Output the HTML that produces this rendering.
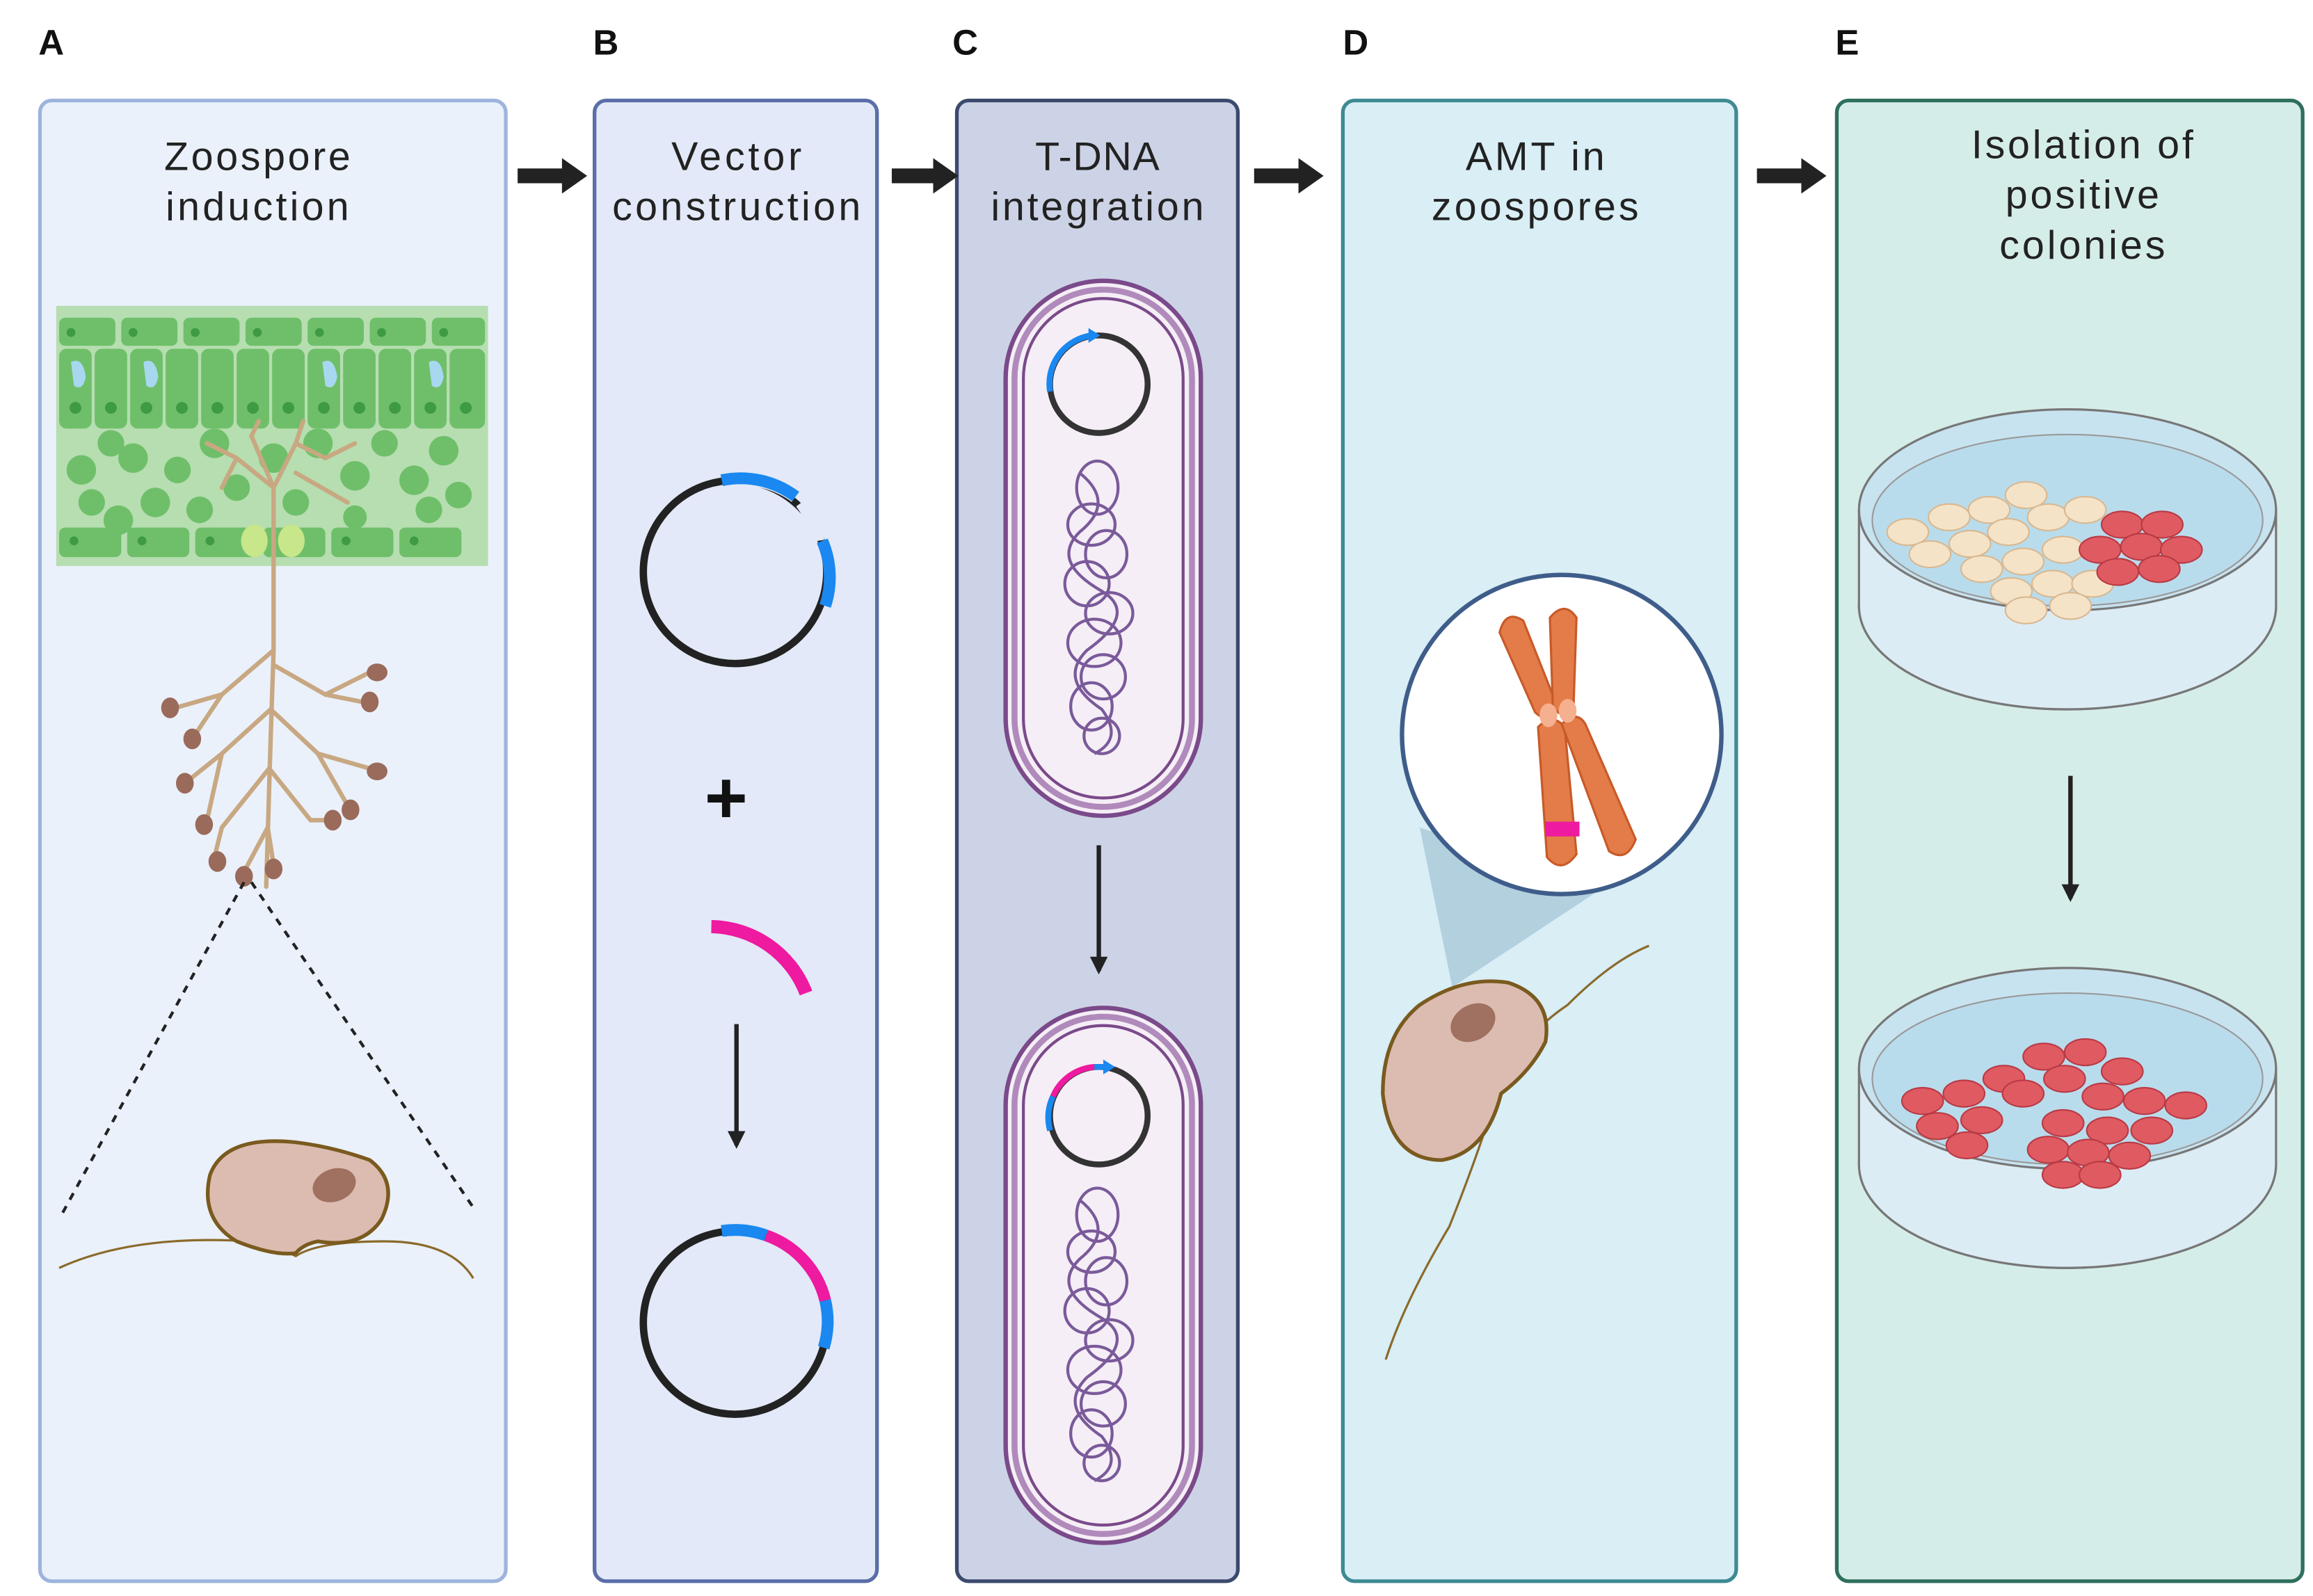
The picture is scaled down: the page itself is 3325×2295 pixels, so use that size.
<!DOCTYPE html>
<html><head><meta charset="utf-8"><style>
html,body{margin:0;padding:0;background:#fff;}
svg{display:block;}
text{font-family:"Liberation Sans",sans-serif;}
</style></head><body>
<svg width="3325" height="2295" viewBox="0 0 1564 1080" preserveAspectRatio="none" xmlns="http://www.w3.org/2000/svg">
<defs>
<marker id="ah" viewBox="0 0 10 10" refX="8" refY="5" markerWidth="4" markerHeight="4" orient="auto"><path d="M0,0L10,5L0,10z" fill="#222"/></marker>
</defs>
<rect width="1564" height="1080" fill="#fff"/>
<g font-weight="bold" font-size="24" fill="#111">
<text x="26" y="37">A</text><text x="401" y="37">B</text><text x="644" y="37">C</text><text x="908" y="37">D</text><text x="1241" y="37">E</text>
</g>
<rect x="27" y="68" width="315" height="1002" rx="8" fill="#eaf1fb" stroke="#9db4dc" stroke-width="2.5"/>
<rect x="402" y="68" width="191" height="1002" rx="8" fill="#e3e9f8" stroke="#5a6ea8" stroke-width="2.5"/>
<rect x="647" y="68" width="190" height="1002" rx="8" fill="#cdd3e6" stroke="#3c4a6e" stroke-width="2.5"/>
<rect x="908" y="68" width="266" height="1002" rx="8" fill="#d9eef5" stroke="#3f8a92" stroke-width="2.5"/>
<rect x="1242" y="68" width="315" height="1002" rx="8" fill="#d5ede8" stroke="#2f6f5e" stroke-width="2.5"/>
<g fill="#222">
<path d="M350,114h30v-7l17,12l-17,12v-7h-30z"/>
<path d="M603,114h28v-7l17,12l-17,12v-7h-28z"/>
<path d="M848,114h30v-7l17,12l-17,12v-7h-30z"/>
<path d="M1188,114h30v-7l17,12l-17,12v-7h-30z"/>
</g>
<g font-size="27" fill="#222" text-anchor="middle">
<text x="174" y="115" textLength="126">Zoospore</text><text x="174" y="149" textLength="124">induction</text>
<text x="498" y="115" textLength="88">Vector</text><text x="498" y="149" textLength="168">construction</text>
<text x="742" y="115" textLength="84">T-DNA</text><text x="742" y="149" textLength="144">integration</text>
<text x="1038" y="115" textLength="94">AMT in</text><text x="1038" y="149" textLength="140">zoospores</text>
<text x="1408" y="107" textLength="150">Isolation of</text><text x="1408" y="141" textLength="104">positive</text><text x="1408" y="175" textLength="112">colonies</text>
</g>
<!-- Panel A -->
<rect x="38" y="207" width="292" height="176" fill="#b6deb0"/>
<g fill="#6fbf6a">
<rect x="40" y="215" width="38" height="19" rx="4"/><rect x="82" y="215" width="38" height="19" rx="4"/><rect x="124" y="215" width="38" height="19" rx="4"/><rect x="166" y="215" width="38" height="19" rx="4"/><rect x="208" y="215" width="38" height="19" rx="4"/><rect x="250" y="215" width="38" height="19" rx="4"/><rect x="292" y="215" width="36" height="19" rx="4"/>
<rect x="40" y="236" width="22" height="54" rx="5"/><rect x="64" y="236" width="22" height="54" rx="5"/><rect x="88" y="236" width="22" height="54" rx="5"/><rect x="112" y="236" width="22" height="54" rx="5"/><rect x="136" y="236" width="22" height="54" rx="5"/><rect x="160" y="236" width="22" height="54" rx="5"/><rect x="184" y="236" width="22" height="54" rx="5"/><rect x="208" y="236" width="22" height="54" rx="5"/><rect x="232" y="236" width="22" height="54" rx="5"/><rect x="256" y="236" width="22" height="54" rx="5"/><rect x="280" y="236" width="22" height="54" rx="5"/><rect x="304" y="236" width="24" height="54" rx="5"/>
<circle cx="55" cy="318" r="10"/><circle cx="75" cy="300" r="9"/><circle cx="90" cy="310" r="10"/><circle cx="62" cy="340" r="9"/><circle cx="80" cy="352" r="10"/><circle cx="105" cy="340" r="10"/><circle cx="120" cy="318" r="9"/><circle cx="145" cy="300" r="10"/><circle cx="160" cy="330" r="9"/><circle cx="185" cy="310" r="10"/><circle cx="200" cy="340" r="9"/><circle cx="215" cy="300" r="10"/><circle cx="240" cy="322" r="10"/><circle cx="260" cy="300" r="9"/><circle cx="280" cy="325" r="10"/><circle cx="300" cy="305" r="10"/><circle cx="310" cy="335" r="9"/><circle cx="290" cy="345" r="9"/><circle cx="135" cy="345" r="9"/><circle cx="240" cy="350" r="8"/>
<rect x="40" y="357" width="42" height="20" rx="4"/><rect x="86" y="357" width="42" height="20" rx="4"/><rect x="132" y="357" width="42" height="20" rx="4"/><rect x="178" y="357" width="42" height="20" rx="4"/><rect x="224" y="357" width="42" height="20" rx="4"/><rect x="270" y="357" width="42" height="20" rx="4"/>
</g>
<g fill="#3f9a44"><circle cx="48" cy="225" r="3"/><circle cx="90" cy="225" r="3"/><circle cx="132" cy="225" r="3"/><circle cx="174" cy="225" r="3"/><circle cx="216" cy="225" r="3"/><circle cx="258" cy="225" r="3"/><circle cx="300" cy="225" r="3"/>
<circle cx="51" cy="276" r="4"/><circle cx="75" cy="276" r="4"/><circle cx="99" cy="276" r="4"/><circle cx="123" cy="276" r="4"/><circle cx="147" cy="276" r="4"/><circle cx="171" cy="276" r="4"/><circle cx="195" cy="276" r="4"/><circle cx="219" cy="276" r="4"/><circle cx="243" cy="276" r="4"/><circle cx="267" cy="276" r="4"/><circle cx="291" cy="276" r="4"/><circle cx="315" cy="276" r="4"/>
<circle cx="50" cy="366" r="3"/><circle cx="96" cy="366" r="3"/><circle cx="142" cy="366" r="3"/><circle cx="234" cy="366" r="3"/><circle cx="280" cy="366" r="3"/></g>
<g fill="#a8d8f0"><path d="M48,245q8,-4 10,10q-2,10 -8,6z"/><path d="M97,245q8,-4 10,10q-2,10 -8,6z"/><path d="M218,245q8,-4 10,10q-2,10 -8,6z"/><path d="M290,245q8,-4 10,10q-2,10 -8,6z"/></g>
<ellipse cx="172" cy="366" rx="9" ry="11" fill="#c8e68a"/><ellipse cx="197" cy="366" rx="9" ry="11" fill="#c8e68a"/>
<g stroke="#c8a882" stroke-width="3" fill="none" stroke-linecap="round">
<path d="M185,380 L185,440 L183,500 L180,600"/>
<path d="M185,330 L185,380"/><path d="M185,330 L160,310 L140,300 M160,310 L150,330 M185,330 L200,300 L220,310 M200,300 L205,285 M185,330 L170,295 L175,285 M200,320 L235,340 M220,310 L240,300"/>
<path d="M185,440 L150,470 L115,480 M150,470 L130,500 M185,450 L220,470 L250,455 M220,470 L245,475 M183,480 L150,510 L125,530 M150,510 L140,555 M183,480 L215,510 L250,520 M215,510 L235,545 M182,520 L150,560 L145,580 M182,520 L210,555 L225,555 M181,560 L165,590 M181,560 L185,585"/>
</g>
<g fill="#9a6a5a"><ellipse cx="115" cy="479" rx="6" ry="7"/><ellipse cx="130" cy="500" rx="6" ry="7"/><ellipse cx="255" cy="455" rx="7" ry="6"/><ellipse cx="250" cy="475" rx="6" ry="7"/><ellipse cx="125" cy="530" rx="6" ry="7"/><ellipse cx="138" cy="558" rx="6" ry="7"/><ellipse cx="255" cy="522" rx="7" ry="6"/><ellipse cx="237" cy="548" rx="6" ry="7"/><ellipse cx="147" cy="583" rx="6" ry="7"/><ellipse cx="225" cy="555" rx="6" ry="7"/><ellipse cx="165" cy="593" rx="6" ry="7"/><ellipse cx="185" cy="588" rx="6" ry="7"/></g>
<g stroke="#222" stroke-width="2" stroke-dasharray="5,5"><line x1="165" y1="597" x2="40" y2="825"/><line x1="170" y1="597" x2="322" y2="820"/></g>
<path d="M40,858 Q90,835 170,840 Q190,845 200,850 Q215,840 260,840 Q305,840 320,865" stroke="#8a6a2a" stroke-width="1.5" fill="none"/>
<path d="M200,848 Q185,850 160,840 Q135,825 142,795 Q152,768 200,773 Q225,776 250,785 Q270,800 258,825 Q245,845 215,840 Q205,842 200,848z" fill="#dcbcb0" stroke="#7a5a1e" stroke-width="2.5"/>
<ellipse cx="226" cy="802" rx="15" ry="11" fill="#a07060" transform="rotate(-20 226 802)"/>
<!-- Panel B -->
<circle cx="497" cy="387" r="62" fill="none" stroke="#222" stroke-width="5"/>
<path d="M491,325 A62,62 0 0 1 538,336" stroke="#e3e9f8" stroke-width="9" fill="none"/>
<path d="M488,325 A62,62 0 0 1 538,336" stroke="#1a88f0" stroke-width="8" fill="none"/>
<path d="M542,340 A62,62 0 0 1 553,366" stroke="#e3e9f8" stroke-width="9" fill="none"/>
<path d="M556,366 A62,62 0 0 1 558,410" stroke="#1a88f0" stroke-width="8" fill="none"/>
<text x="491" y="557" font-size="50" font-weight="bold" text-anchor="middle" fill="#111">+</text>
<path d="M481,627 A70,70 0 0 1 545,672" stroke="#ee1aa0" stroke-width="9" fill="none"/>
<line x1="498" y1="693" x2="498" y2="775" stroke="#222" stroke-width="3" marker-end="url(#ah)"/>
<circle cx="497" cy="895" r="62" fill="none" stroke="#222" stroke-width="5"/>
<path d="M488,833 A62,62 0 0 1 518,836" stroke="#1a88f0" stroke-width="8" fill="none"/>
<path d="M518,836 A62,62 0 0 1 558,880" stroke="#ee1aa0" stroke-width="8" fill="none"/>
<path d="M558,880 A62,62 0 0 1 557,912" stroke="#1a88f0" stroke-width="8" fill="none"/>
<!-- Panel C -->
<g>
<rect x="680" y="190" width="132" height="362" rx="66" fill="#f5eef6" stroke="#7a4a8a" stroke-width="3"/>
<rect x="686" y="196" width="120" height="350" rx="60" fill="none" stroke="#b08abb" stroke-width="4"/>
<rect x="692" y="202" width="108" height="338" rx="54" fill="none" stroke="#7a4a8a" stroke-width="2"/>
<circle cx="743" cy="260" r="33" fill="none" stroke="#333" stroke-width="4"/>
<path d="M710,265 A33,33 0 0 1 738,227" stroke="#1a88f0" stroke-width="4" fill="none"/>
<path d="M736,222 l8,5 l-8,5z" fill="#1a88f0"/>
<g stroke="#7a5a9a" stroke-width="2" fill="none">
<ellipse cx="742" cy="330" rx="14" ry="18"/><ellipse cx="738" cy="355" rx="16" ry="14"/><ellipse cx="748" cy="375" rx="14" ry="16"/><ellipse cx="735" cy="395" rx="15" ry="15"/><ellipse cx="750" cy="415" rx="16" ry="14"/><ellipse cx="740" cy="435" rx="18" ry="16"/><ellipse cx="746" cy="458" rx="15" ry="15"/><ellipse cx="738" cy="478" rx="14" ry="16"/><ellipse cx="745" cy="498" rx="12" ry="12"/>
<path d="M730,320 q25,20 0,40 q-20,20 15,40 q25,15 -10,40 q-20,20 10,40 q15,20 -5,30"/>
</g>
</g>
<line x1="743" y1="572" x2="743" y2="657" stroke="#222" stroke-width="3" marker-end="url(#ah)"/>
<g>
<rect x="680" y="682" width="132" height="362" rx="66" fill="#f5eef6" stroke="#7a4a8a" stroke-width="3"/>
<rect x="686" y="688" width="120" height="350" rx="60" fill="none" stroke="#b08abb" stroke-width="4"/>
<rect x="692" y="694" width="108" height="338" rx="54" fill="none" stroke="#7a4a8a" stroke-width="2"/>
<circle cx="743" cy="755" r="33" fill="none" stroke="#333" stroke-width="4"/>
<path d="M712,742 A33,33 0 0 1 740,722" stroke="#ee1aa0" stroke-width="4" fill="none"/>
<path d="M710,765 A33,33 0 0 1 712,742" stroke="#1a88f0" stroke-width="4" fill="none"/>
<path d="M740,722 L748,722" stroke="#1a88f0" stroke-width="4"/>
<path d="M746,717 l8,5 l-8,5z" fill="#1a88f0"/>
<g stroke="#7a5a9a" stroke-width="2" fill="none">
<ellipse cx="742" cy="822" rx="14" ry="18"/><ellipse cx="738" cy="847" rx="16" ry="14"/><ellipse cx="748" cy="867" rx="14" ry="16"/><ellipse cx="735" cy="887" rx="15" ry="15"/><ellipse cx="750" cy="907" rx="16" ry="14"/><ellipse cx="740" cy="927" rx="18" ry="16"/><ellipse cx="746" cy="950" rx="15" ry="15"/><ellipse cx="738" cy="970" rx="14" ry="16"/><ellipse cx="745" cy="990" rx="12" ry="12"/>
<path d="M730,812 q25,20 0,40 q-20,20 15,40 q25,15 -10,40 q-20,20 10,40 q15,20 -5,30"/>
</g>
</g>
<!-- Panel D -->
<path d="M960,560 L982,668 L1085,600 Z" fill="#a9c8da" opacity="0.8"/>
<circle cx="1056" cy="497" r="108" fill="#fff" stroke="#3f5d8a" stroke-width="3"/>
<g fill="#e37c48" stroke="#c85a28" stroke-width="1.5">
<path d="M1014,428 Q1018,412 1030,420 L1053,478 Q1046,490 1038,482 Z"/>
<path d="M1048,418 Q1058,406 1066,418 L1064,478 Q1056,488 1050,478 Z"/>
<path d="M1040,492 Q1050,482 1058,492 L1066,578 Q1056,592 1046,580 Z"/>
<path d="M1056,490 Q1066,480 1072,490 L1106,568 Q1100,584 1088,576 Z"/>
</g>
<ellipse cx="1047" cy="484" rx="6" ry="8" fill="#f5b090"/><ellipse cx="1060" cy="481" rx="6" ry="8" fill="#f5b090"/>
<rect x="1045" y="556" width="23" height="10" fill="#ee1aa0"/>
<path d="M1012,735 Q1030,700 1060,680 Q1090,650 1115,640 M1012,740 Q1000,780 980,830 Q950,880 937,920" stroke="#8a6a2a" stroke-width="1.5" fill="none"/>
<path d="M1015,740 Q1005,780 975,785 Q940,785 935,740 Q935,700 960,680 Q990,660 1020,665 Q1050,675 1045,705 Q1035,725 1015,740z" fill="#dcbcb0" stroke="#7a5a1e" stroke-width="2.5"/>
<ellipse cx="996" cy="692" rx="16" ry="12" fill="#a07060" transform="rotate(-30 996 692)"/>
<!-- Panel E -->
<g>
<ellipse cx="1398" cy="410" rx="141" ry="70" fill="#e9f3f8" stroke="#777" stroke-width="1.5"/>
<path d="M1257,345 L1257,410 A141,70 0 0 0 1539,410 L1539,345" fill="#dcecf4" stroke="#777" stroke-width="1.5"/>
<ellipse cx="1398" cy="345" rx="141" ry="68" fill="#c8e3f0" stroke="#777" stroke-width="1.5"/>
<ellipse cx="1398" cy="352" rx="132" ry="58" fill="#b9dcec" stroke="#999" stroke-width="1"/>
<g fill="#f5e3c8" stroke="#d8b890" stroke-width="1">
<ellipse cx="1290" cy="360" rx="14" ry="9"/><ellipse cx="1318" cy="350" rx="14" ry="9"/><ellipse cx="1345" cy="345" rx="14" ry="9"/><ellipse cx="1370" cy="335" rx="14" ry="9"/><ellipse cx="1305" cy="375" rx="14" ry="9"/><ellipse cx="1332" cy="368" rx="14" ry="9"/><ellipse cx="1358" cy="360" rx="14" ry="9"/><ellipse cx="1385" cy="350" rx="14" ry="9"/><ellipse cx="1410" cy="345" rx="14" ry="9"/><ellipse cx="1340" cy="385" rx="14" ry="9"/><ellipse cx="1368" cy="380" rx="14" ry="9"/><ellipse cx="1395" cy="372" rx="14" ry="9"/><ellipse cx="1360" cy="400" rx="14" ry="9"/><ellipse cx="1388" cy="395" rx="14" ry="9"/><ellipse cx="1415" cy="395" rx="14" ry="9"/><ellipse cx="1370" cy="413" rx="14" ry="9"/><ellipse cx="1400" cy="410" rx="14" ry="9"/>
</g>
<g fill="#e05a62" stroke="#b83a44" stroke-width="1">
<ellipse cx="1435" cy="355" rx="14" ry="9"/><ellipse cx="1462" cy="355" rx="14" ry="9"/><ellipse cx="1420" cy="372" rx="14" ry="9"/><ellipse cx="1448" cy="370" rx="14" ry="9"/><ellipse cx="1475" cy="372" rx="14" ry="9"/><ellipse cx="1432" cy="387" rx="14" ry="9"/><ellipse cx="1460" cy="385" rx="14" ry="9"/>
</g>
</g>
<line x1="1400" y1="525" x2="1400" y2="608" stroke="#222" stroke-width="3" marker-end="url(#ah)"/>
<g>
<ellipse cx="1398" cy="788" rx="141" ry="70" fill="#e9f3f8" stroke="#777" stroke-width="1.5"/>
<path d="M1257,723 L1257,788 A141,70 0 0 0 1539,788 L1539,723" fill="#dcecf4" stroke="#777" stroke-width="1.5"/>
<ellipse cx="1398" cy="723" rx="141" ry="68" fill="#c8e3f0" stroke="#777" stroke-width="1.5"/>
<ellipse cx="1398" cy="730" rx="132" ry="58" fill="#b9dcec" stroke="#999" stroke-width="1"/>
<g fill="#e05a62" stroke="#b83a44" stroke-width="1">
<ellipse cx="1300" cy="745" rx="14" ry="9"/><ellipse cx="1328" cy="740" rx="14" ry="9"/><ellipse cx="1355" cy="730" rx="14" ry="9"/><ellipse cx="1382" cy="715" rx="14" ry="9"/><ellipse cx="1410" cy="712" rx="14" ry="9"/><ellipse cx="1435" cy="725" rx="14" ry="9"/><ellipse cx="1310" cy="762" rx="14" ry="9"/><ellipse cx="1340" cy="758" rx="14" ry="9"/><ellipse cx="1368" cy="740" rx="14" ry="9"/><ellipse cx="1396" cy="730" rx="14" ry="9"/><ellipse cx="1422" cy="742" rx="14" ry="9"/><ellipse cx="1450" cy="745" rx="14" ry="9"/><ellipse cx="1478" cy="748" rx="14" ry="9"/><ellipse cx="1330" cy="775" rx="14" ry="9"/><ellipse cx="1395" cy="760" rx="14" ry="9"/><ellipse cx="1425" cy="765" rx="14" ry="9"/><ellipse cx="1455" cy="765" rx="14" ry="9"/><ellipse cx="1385" cy="778" rx="14" ry="9"/><ellipse cx="1412" cy="780" rx="14" ry="9"/><ellipse cx="1440" cy="782" rx="14" ry="9"/><ellipse cx="1395" cy="795" rx="14" ry="9"/><ellipse cx="1420" cy="795" rx="14" ry="9"/>
</g>
</g>
</svg>
</body></html>
